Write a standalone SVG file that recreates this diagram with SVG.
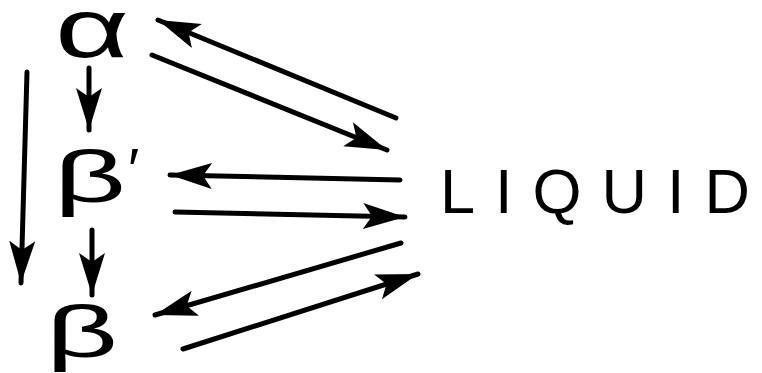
<svg xmlns="http://www.w3.org/2000/svg" width="762" height="373" viewBox="0 0 762 373">
<style>
.lbl{font-family:"Liberation Sans","DejaVu Sans",sans-serif;fill:#000;}
.c{stroke:#000;stroke-width:5;stroke-linecap:round;fill:none;marker-end:url(#ah);}
</style>
<defs>
<marker id="ah" markerUnits="userSpaceOnUse" markerWidth="46" markerHeight="28" refX="42" refY="13" orient="auto">
<path d="M0,0 L42,13 L0,26 L9,13 Z" fill="#000"/>
</marker>
</defs>
<rect width="762" height="373" fill="#fff"/>
<g id="alpha"><text class="lbl" font-size="80" text-anchor="middle" transform="translate(92,57) scale(1.6,1.05)">α</text></g>
<g id="beta-prime"><text class="lbl" font-size="72" text-anchor="middle" transform="translate(90,202) scale(1.75,1)">β</text><text class="lbl" font-size="60" x="128" y="190">′</text></g>
<g id="beta"><text class="lbl" font-size="72" text-anchor="middle" transform="translate(82,357) scale(1.75,1)">β</text></g>
<g id="liquid"><text class="lbl" font-size="63" x="440" y="213" textLength="310" lengthAdjust="spacing">LIQUID</text></g>
<g id="connectors">
<line class="c" x1="89" y1="68" x2="89" y2="130"/>
<line class="c" x1="27" y1="72" x2="21" y2="283"/>
<line class="c" x1="92" y1="230" x2="92" y2="295"/>
<line class="c" x1="396" y1="118" x2="158" y2="20"/>
<line class="c" x1="152" y1="55" x2="387" y2="150"/>
<line class="c" x1="400" y1="180" x2="170" y2="175"/>
<line class="c" x1="175" y1="212" x2="405" y2="217"/>
<line class="c" x1="401" y1="243" x2="155" y2="315"/>
<line class="c" x1="183" y1="349" x2="418" y2="274"/>
</g>
</svg>
